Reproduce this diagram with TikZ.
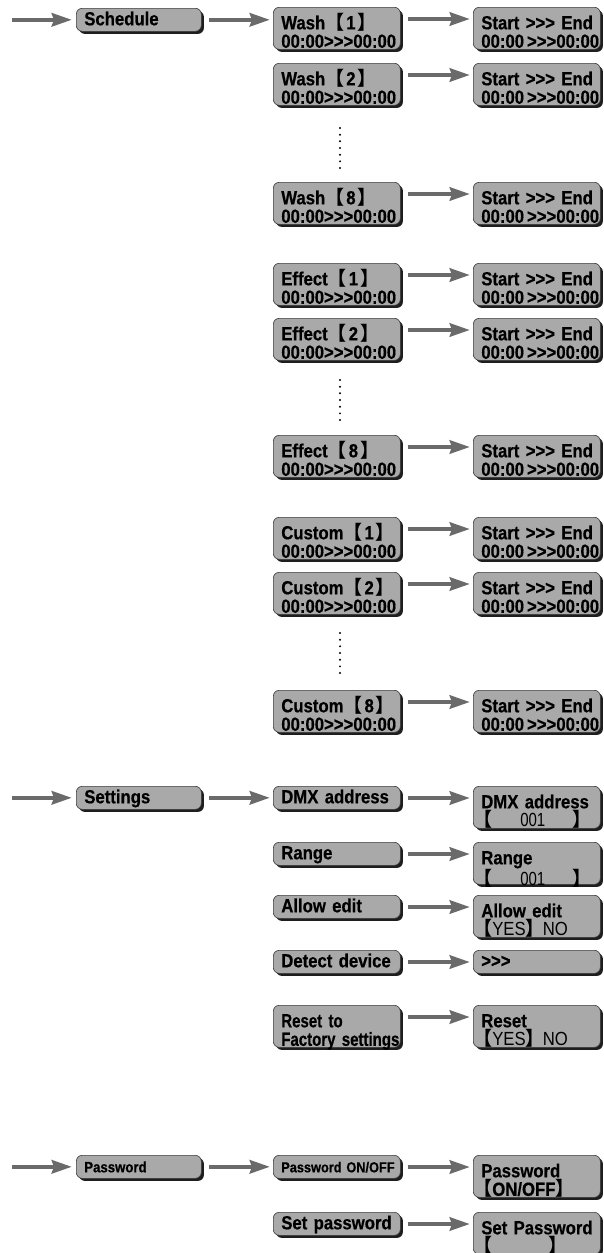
\documentclass[tikz,border=0pt]{standalone}
\usepackage{fontspec}
\setmainfont{Liberation Sans}
\newfontfamily\bxf[FakeStretch=0.88,BoldFeatures={FakeBold=0.5}]{Liberation Sans}
\newfontfamily\bxfc[FakeStretch=0.79,BoldFeatures={FakeBold=0.5}]{Liberation Sans}
\newfontfamily\cjkf{Noto Sans CJK SC}
\usetikzlibrary{arrows.meta,shadows}
\definecolor{boxgray}{HTML}{A9A9A9}
\definecolor{boxline}{HTML}{3A3A3A}
\definecolor{shadowc}{HTML}{1E1E1E}
\definecolor{arrowc}{HTML}{6A6A6A}
\hyphenpenalty=10000
\exhyphenpenalty=10000
\newcommand\LBk{{\cjkf\bfseries 【}}
\newcommand\RBk{{\cjkf\bfseries 】}}
\newcommand\Br[1]{\LBk\kern2pt#1\kern2pt\RBk}
\newcommand\Tm{00:00>>>00:00}
\newcommand\Se{00:00\kern3pt>>>00:00}
\newcommand\Ls{\hspace*{-8pt}}
\tikzset{
  box/.style={draw=boxline, line width=0.6pt, fill=boxgray, rounded corners=6pt,
    anchor=north west, inner xsep=8pt, inner ysep=0pt, align=left,
    font=\bxf\bfseries\fontsize{19}{18.5}\selectfont,
    execute at begin node={\hyphenpenalty=10000\exhyphenpenalty=10000\relax},
    drop shadow={shadow xshift=2.6pt, shadow yshift=-2.6pt, fill=shadowc, opacity=1}},
  lbox/.style={box, text width=109pt},
  mbox/.style={box, text width=111pt},
  rbox/.style={box, text width=111pt},
  one/.style={minimum height=23pt, text height=12pt, text depth=1pt},
  two/.style={minimum height=42pt, text height=16pt, text depth=14pt},
  conn/.style={draw=arrowc, line width=4.5pt,
    -{Stealth[length=20pt,width=13pt,inset=2pt]},
    shorten >=3pt, shorten <=7pt},
  feed/.style={conn, shorten <=0pt, shorten >=4pt},
  dotmark/.style={fill=black, draw=none}
}
\begin{document}
\begin{tikzpicture}[x=1pt,y=-1pt]
\useasboundingbox (0,0) rectangle (604,1253);
% ---------- Schedule ----------
\node[lbox,one] (sch) at (76,8) {Schedule};
\coordinate (in1) at ([xshift=-64pt]sch.west);
\draw[feed] (in1) -- (sch.west);

\node[mbox,two] (w1) at (273,7) {Wash\Br{1}\\\Tm};
\node[mbox,two] (w2) at (273,63) {Wash\Br{2}\\\Tm};
\node[mbox,two] (w8) at (273,182) {Wash\Br{8}\\\Tm};
\node[mbox,two] (e1) at (273,263) {Effect\Br{1}\\\Tm};
\node[mbox,two] (e2) at (273,318) {Effect\Br{2}\\\Tm};
\node[mbox,two] (e8) at (273,435) {Effect\Br{8}\\\Tm};
\node[mbox,two] (c1) at (273,517) {Custom\Br{1}\\\Tm};
\node[mbox,two] (c2) at (273,572) {Custom\Br{2}\\\Tm};
\node[mbox,two] (c8) at (273,690) {Custom\Br{8}\\\Tm};

\foreach \n/\y in {rw1/7,rw2/63,rw8/182,re1/263,re2/318,re8/435,rc1/517,rc2/572,rc8/690}
  \node[rbox,two] (\n) at (473,\y) {Start~>>>~End\\\Se};

\draw[conn] (sch.east) -- (sch.east -| w1.west);
\foreach \a/\b in {w1/rw1,w2/rw2,w8/rw8,e1/re1,e2/re2,e8/re8,c1/rc1,c2/rc2,c8/rc8}
  \draw[conn] ([yshift=-12pt]\a.north east) -- ([yshift=-12pt]\b.north west);

\foreach \y in {128,380,633}
  \foreach \k in {0,...,6}
    \fill[dotmark] (340,\y+6.67*\k) circle (1.1pt);

% ---------- Settings ----------
\node[lbox,one] (set) at (76,786) {Settings};
\coordinate (in2) at ([xshift=-64pt]set.west);
\draw[feed] (in2) -- (set.west);

\node[mbox,one] (dmx) at (273,786) {DMX~address};
\node[mbox,one] (rng) at (273,842) {Range};
\node[mbox,one] (alw) at (273,895) {Allow~edit};
\node[mbox,one] (det) at (273,950) {Detect~device};
\node[mbox,two,font=\bxfc\bfseries\fontsize{19}{18.5}\selectfont] (rst) at (273,1005) {Reset~to\\Factory~settings};

\node[rbox,two] (rdmx) at (473,786) {DMX~address\\\Ls\LBk\kern28pt{\bxfc\mdseries 001}\kern27pt\RBk};
\node[rbox,two] (rrng) at (473,842) {Range\\\Ls\LBk\kern28pt{\bxfc\mdseries 001}\kern27pt\RBk};
\node[rbox,two] (ralw) at (473,895) {Allow~edit\\\Ls\LBk{\mdseries YES}\RBk\kern-2pt{\mdseries NO}};
\node[rbox,one] (rdet) at (473,950) {>>>};
\node[rbox,two] (rrst) at (473,1005) {Reset\\\Ls\LBk{\mdseries YES}\RBk\kern-2pt{\mdseries NO}};

\draw[conn] (set.east) -- (set.east -| dmx.west);
\foreach \a/\b in {dmx/rdmx,rng/rrng,alw/ralw,det/rdet,rst/rrst}
  \draw[conn] ([yshift=-12pt]\a.north east) -- ([yshift=-12pt]\b.north west);

% ---------- Password ----------
\node[lbox,one,font=\bxf\bfseries\fontsize{15}{15}\selectfont] (pw) at (76,1155) {Password};
\coordinate (in3) at ([xshift=-64pt]pw.west);
\draw[feed] (in3) -- (pw.west);

\node[mbox,one,font=\bxf\bfseries\fontsize{14.5}{14.5}\selectfont] (pwo) at (273,1155) {Password~ON/OFF};
\node[mbox,one] (spw) at (273,1212) {Set~password};
\node[rbox,two] (rpwo) at (473,1155) {Password\\\Ls\LBk ON/OFF\RBk};
\node[rbox,two] (rspw) at (473,1212) {Set~Password\\\Ls\LBk\kern56pt\RBk};

\draw[conn] (pw.east) -- (pw.east -| pwo.west);
\foreach \a/\b in {pwo/rpwo,spw/rspw}
  \draw[conn] ([yshift=-12pt]\a.north east) -- ([yshift=-12pt]\b.north west);
\end{tikzpicture}
\end{document}
